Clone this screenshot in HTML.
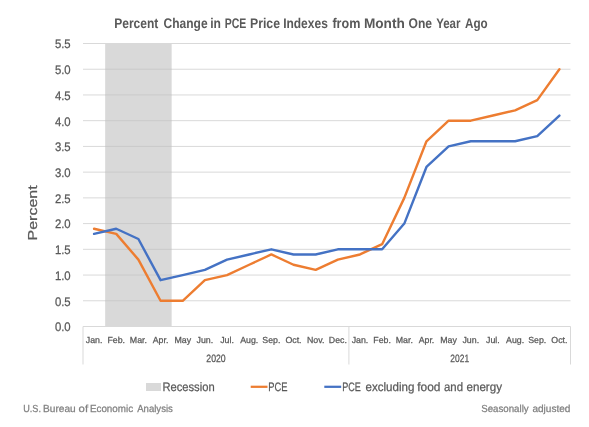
<!DOCTYPE html><html><head><meta charset="utf-8"><style>html,body{margin:0;padding:0;background:#fff;overflow:hidden;}svg{display:block;will-change:transform;}text{font-family:"Liberation Sans",sans-serif;text-rendering:geometricPrecision;}</style></head><body>
<svg width="589" height="427" viewBox="0 0 589 427">
<rect x="0" y="0" width="589" height="427" fill="#fff"/>
<rect x="105.16" y="43.00" width="66.48" height="283.50" fill="#d9d9d9"/>
<line x1="83.0" x2="570.5" y1="300.77" y2="300.77" stroke="#d9d9d9" stroke-width="1"/>
<line x1="105.16" x2="171.64" y1="300.77" y2="300.77" stroke="#cacaca" stroke-width="1"/>
<line x1="83.0" x2="570.5" y1="275.05" y2="275.05" stroke="#d9d9d9" stroke-width="1"/>
<line x1="105.16" x2="171.64" y1="275.05" y2="275.05" stroke="#cacaca" stroke-width="1"/>
<line x1="83.0" x2="570.5" y1="249.32" y2="249.32" stroke="#d9d9d9" stroke-width="1"/>
<line x1="105.16" x2="171.64" y1="249.32" y2="249.32" stroke="#cacaca" stroke-width="1"/>
<line x1="83.0" x2="570.5" y1="223.59" y2="223.59" stroke="#d9d9d9" stroke-width="1"/>
<line x1="105.16" x2="171.64" y1="223.59" y2="223.59" stroke="#cacaca" stroke-width="1"/>
<line x1="83.0" x2="570.5" y1="197.86" y2="197.86" stroke="#d9d9d9" stroke-width="1"/>
<line x1="105.16" x2="171.64" y1="197.86" y2="197.86" stroke="#cacaca" stroke-width="1"/>
<line x1="83.0" x2="570.5" y1="172.14" y2="172.14" stroke="#d9d9d9" stroke-width="1"/>
<line x1="105.16" x2="171.64" y1="172.14" y2="172.14" stroke="#cacaca" stroke-width="1"/>
<line x1="83.0" x2="570.5" y1="146.41" y2="146.41" stroke="#d9d9d9" stroke-width="1"/>
<line x1="105.16" x2="171.64" y1="146.41" y2="146.41" stroke="#cacaca" stroke-width="1"/>
<line x1="83.0" x2="570.5" y1="120.68" y2="120.68" stroke="#d9d9d9" stroke-width="1"/>
<line x1="105.16" x2="171.64" y1="120.68" y2="120.68" stroke="#cacaca" stroke-width="1"/>
<line x1="83.0" x2="570.5" y1="94.95" y2="94.95" stroke="#d9d9d9" stroke-width="1"/>
<line x1="105.16" x2="171.64" y1="94.95" y2="94.95" stroke="#cacaca" stroke-width="1"/>
<line x1="83.0" x2="570.5" y1="69.23" y2="69.23" stroke="#d9d9d9" stroke-width="1"/>
<line x1="105.16" x2="171.64" y1="69.23" y2="69.23" stroke="#cacaca" stroke-width="1"/>
<line x1="83.0" x2="570.5" y1="43.50" y2="43.50" stroke="#d9d9d9" stroke-width="1"/>
<line x1="83.0" x2="570.5" y1="326.5" y2="326.5" stroke="#d9d9d9" stroke-width="1"/>
<line x1="83.00" x2="83.00" y1="326.5" y2="364.5" stroke="#d9d9d9" stroke-width="1"/>
<line x1="348.91" x2="348.91" y1="326.5" y2="364.5" stroke="#d9d9d9" stroke-width="1"/>
<line x1="570.50" x2="570.50" y1="326.5" y2="364.5" stroke="#d9d9d9" stroke-width="1"/>
<polyline points="94.08,228.74 116.24,233.88 138.40,259.61 160.56,300.77 182.72,300.77 204.88,280.19 227.03,275.05 249.19,264.75 271.35,254.46 293.51,264.75 315.67,269.90 337.83,259.61 359.99,254.46 382.15,244.17 404.31,197.86 426.47,141.26 448.62,120.68 470.78,120.68 492.94,115.54 515.10,110.39 537.26,100.10 559.42,69.23" fill="none" stroke="#ED7D31" stroke-width="2.4" stroke-linejoin="round" stroke-linecap="round"/>
<polyline points="94.08,233.88 116.24,228.74 138.40,239.03 160.56,280.19 182.72,275.05 204.88,269.90 227.03,259.61 249.19,254.46 271.35,249.32 293.51,254.46 315.67,254.46 337.83,249.32 359.99,249.32 382.15,249.32 404.31,223.59 426.47,166.99 448.62,146.41 470.78,141.26 492.94,141.26 515.10,141.26 537.26,136.12 559.42,115.54" fill="none" stroke="#4472C4" stroke-width="2.4" stroke-linejoin="round" stroke-linecap="round"/>
<text x="70.70" y="331.35" font-size="12.4" fill="#595959" text-anchor="end" textLength="15.80" lengthAdjust="spacingAndGlyphs" stroke="#595959" stroke-width="0.25">0.0</text>
<text x="70.70" y="305.62" font-size="12.4" fill="#595959" text-anchor="end" textLength="15.80" lengthAdjust="spacingAndGlyphs" stroke="#595959" stroke-width="0.25">0.5</text>
<text x="70.70" y="279.90" font-size="12.4" fill="#595959" text-anchor="end" textLength="15.80" lengthAdjust="spacingAndGlyphs" stroke="#595959" stroke-width="0.25">1.0</text>
<text x="70.70" y="254.17" font-size="12.4" fill="#595959" text-anchor="end" textLength="15.80" lengthAdjust="spacingAndGlyphs" stroke="#595959" stroke-width="0.25">1.5</text>
<text x="70.70" y="228.44" font-size="12.4" fill="#595959" text-anchor="end" textLength="15.80" lengthAdjust="spacingAndGlyphs" stroke="#595959" stroke-width="0.25">2.0</text>
<text x="70.70" y="202.71" font-size="12.4" fill="#595959" text-anchor="end" textLength="15.80" lengthAdjust="spacingAndGlyphs" stroke="#595959" stroke-width="0.25">2.5</text>
<text x="70.70" y="176.99" font-size="12.4" fill="#595959" text-anchor="end" textLength="15.80" lengthAdjust="spacingAndGlyphs" stroke="#595959" stroke-width="0.25">3.0</text>
<text x="70.70" y="151.26" font-size="12.4" fill="#595959" text-anchor="end" textLength="15.80" lengthAdjust="spacingAndGlyphs" stroke="#595959" stroke-width="0.25">3.5</text>
<text x="70.70" y="125.53" font-size="12.4" fill="#595959" text-anchor="end" textLength="15.80" lengthAdjust="spacingAndGlyphs" stroke="#595959" stroke-width="0.25">4.0</text>
<text x="70.70" y="99.80" font-size="12.4" fill="#595959" text-anchor="end" textLength="15.80" lengthAdjust="spacingAndGlyphs" stroke="#595959" stroke-width="0.25">4.5</text>
<text x="70.70" y="74.08" font-size="12.4" fill="#595959" text-anchor="end" textLength="15.80" lengthAdjust="spacingAndGlyphs" stroke="#595959" stroke-width="0.25">5.0</text>
<text x="70.70" y="48.35" font-size="12.4" fill="#595959" text-anchor="end" textLength="15.80" lengthAdjust="spacingAndGlyphs" stroke="#595959" stroke-width="0.25">5.5</text>
<text x="94.08" y="342.80" font-size="8.8" fill="#595959" text-anchor="middle" stroke="#595959" stroke-width="0.25">Jan.</text>
<text x="116.24" y="342.80" font-size="8.8" fill="#595959" text-anchor="middle" stroke="#595959" stroke-width="0.25">Feb.</text>
<text x="138.40" y="342.80" font-size="8.8" fill="#595959" text-anchor="middle" stroke="#595959" stroke-width="0.25">Mar.</text>
<text x="160.56" y="342.80" font-size="8.8" fill="#595959" text-anchor="middle" stroke="#595959" stroke-width="0.25">Apr.</text>
<text x="182.72" y="342.80" font-size="8.8" fill="#595959" text-anchor="middle" stroke="#595959" stroke-width="0.25">May</text>
<text x="204.88" y="342.80" font-size="8.8" fill="#595959" text-anchor="middle" stroke="#595959" stroke-width="0.25">Jun.</text>
<text x="227.03" y="342.80" font-size="8.8" fill="#595959" text-anchor="middle" stroke="#595959" stroke-width="0.25">Jul.</text>
<text x="249.19" y="342.80" font-size="8.8" fill="#595959" text-anchor="middle" stroke="#595959" stroke-width="0.25">Aug.</text>
<text x="271.35" y="342.80" font-size="8.8" fill="#595959" text-anchor="middle" stroke="#595959" stroke-width="0.25">Sep.</text>
<text x="293.51" y="342.80" font-size="8.8" fill="#595959" text-anchor="middle" stroke="#595959" stroke-width="0.25">Oct.</text>
<text x="315.67" y="342.80" font-size="8.8" fill="#595959" text-anchor="middle" stroke="#595959" stroke-width="0.25">Nov.</text>
<text x="337.83" y="342.80" font-size="8.8" fill="#595959" text-anchor="middle" stroke="#595959" stroke-width="0.25">Dec.</text>
<text x="359.99" y="342.80" font-size="8.8" fill="#595959" text-anchor="middle" stroke="#595959" stroke-width="0.25">Jan.</text>
<text x="382.15" y="342.80" font-size="8.8" fill="#595959" text-anchor="middle" stroke="#595959" stroke-width="0.25">Feb.</text>
<text x="404.31" y="342.80" font-size="8.8" fill="#595959" text-anchor="middle" stroke="#595959" stroke-width="0.25">Mar.</text>
<text x="426.47" y="342.80" font-size="8.8" fill="#595959" text-anchor="middle" stroke="#595959" stroke-width="0.25">Apr.</text>
<text x="448.62" y="342.80" font-size="8.8" fill="#595959" text-anchor="middle" stroke="#595959" stroke-width="0.25">May</text>
<text x="470.78" y="342.80" font-size="8.8" fill="#595959" text-anchor="middle" stroke="#595959" stroke-width="0.25">Jun.</text>
<text x="492.94" y="342.80" font-size="8.8" fill="#595959" text-anchor="middle" stroke="#595959" stroke-width="0.25">Jul.</text>
<text x="515.10" y="342.80" font-size="8.8" fill="#595959" text-anchor="middle" stroke="#595959" stroke-width="0.25">Aug.</text>
<text x="537.26" y="342.80" font-size="8.8" fill="#595959" text-anchor="middle" stroke="#595959" stroke-width="0.25">Sep.</text>
<text x="559.42" y="342.80" font-size="8.8" fill="#595959" text-anchor="middle" stroke="#595959" stroke-width="0.25">Oct.</text>
<text x="216.00" y="361.70" font-size="10.6" fill="#595959" text-anchor="middle" textLength="19.40" lengthAdjust="spacingAndGlyphs" stroke="#595959" stroke-width="0.25">2020</text>
<text x="459.75" y="361.70" font-size="10.6" fill="#595959" text-anchor="middle" textLength="18.80" lengthAdjust="spacingAndGlyphs" stroke="#595959" stroke-width="0.25">2021</text>
<text x="0" y="0" font-size="13" fill="#595959" transform="translate(36.5,240.4) rotate(-90)" textLength="55" lengthAdjust="spacingAndGlyphs" stroke="#595959" stroke-width="0.25">Percent</text>
<rect x="146" y="383" width="15" height="8" fill="#d9d9d9"/>
<line x1="250.7" x2="267.5" y1="386.8" y2="386.8" stroke="#ED7D31" stroke-width="2.25"/>
<line x1="324.3" x2="341.2" y1="386.8" y2="386.8" stroke="#4472C4" stroke-width="2.25"/>
<text x="114.24" y="27.60" font-size="14.0" fill="#595959" font-weight="bold" textLength="44.11" lengthAdjust="spacingAndGlyphs">Percent</text>
<text x="163.60" y="27.60" font-size="14.0" fill="#595959" font-weight="bold" textLength="43.99" lengthAdjust="spacingAndGlyphs">Change</text>
<text x="210.14" y="27.60" font-size="14.0" fill="#595959" font-weight="bold" textLength="10.75" lengthAdjust="spacingAndGlyphs">in</text>
<text x="224.75" y="27.60" font-size="14.0" fill="#595959" font-weight="bold" textLength="21.60" lengthAdjust="spacingAndGlyphs">PCE</text>
<text x="250.02" y="27.60" font-size="14.0" fill="#595959" font-weight="bold" textLength="29.99" lengthAdjust="spacingAndGlyphs">Price</text>
<text x="283.14" y="27.60" font-size="14.0" fill="#595959" font-weight="bold" textLength="44.68" lengthAdjust="spacingAndGlyphs">Indexes</text>
<text x="332.40" y="27.60" font-size="14.0" fill="#595959" font-weight="bold" textLength="28.01" lengthAdjust="spacingAndGlyphs">from</text>
<text x="363.92" y="27.60" font-size="14.0" fill="#595959" font-weight="bold" textLength="40.93" lengthAdjust="spacingAndGlyphs">Month</text>
<text x="408.60" y="27.60" font-size="14.0" fill="#595959" font-weight="bold" textLength="23.50" lengthAdjust="spacingAndGlyphs">One</text>
<text x="436.20" y="27.60" font-size="14.0" fill="#595959" font-weight="bold" textLength="24.27" lengthAdjust="spacingAndGlyphs">Year</text>
<text x="465.00" y="27.60" font-size="14.0" fill="#595959" font-weight="bold" textLength="22.68" lengthAdjust="spacingAndGlyphs">Ago</text>
<text x="162.38" y="390.80" font-size="12.2" fill="#595959" textLength="52.25" lengthAdjust="spacingAndGlyphs" stroke="#595959" stroke-width="0.25">Recession</text>
<text x="268.23" y="390.80" font-size="12.2" fill="#595959" textLength="19.21" lengthAdjust="spacingAndGlyphs" stroke="#595959" stroke-width="0.25">PCE</text>
<text x="342.26" y="390.80" font-size="12.2" fill="#595959" textLength="18.59" lengthAdjust="spacingAndGlyphs" stroke="#595959" stroke-width="0.25">PCE</text>
<text x="365.50" y="390.80" font-size="12.2" fill="#595959" textLength="48.87" lengthAdjust="spacingAndGlyphs" stroke="#595959" stroke-width="0.25">excluding</text>
<text x="417.30" y="390.80" font-size="12.2" fill="#595959" textLength="23.22" lengthAdjust="spacingAndGlyphs" stroke="#595959" stroke-width="0.25">food</text>
<text x="444.00" y="390.80" font-size="12.2" fill="#595959" textLength="19.02" lengthAdjust="spacingAndGlyphs" stroke="#595959" stroke-width="0.25">and</text>
<text x="466.50" y="390.80" font-size="12.2" fill="#595959" textLength="35.45" lengthAdjust="spacingAndGlyphs" stroke="#595959" stroke-width="0.25">energy</text>
<text x="23.20" y="412.00" font-size="10.2" fill="#808080" textLength="17.74" lengthAdjust="spacingAndGlyphs" stroke="#808080" stroke-width="0.25">U.S.</text>
<text x="43.01" y="412.00" font-size="10.2" fill="#808080" textLength="32.65" lengthAdjust="spacingAndGlyphs" stroke="#808080" stroke-width="0.25">Bureau</text>
<text x="78.60" y="412.00" font-size="10.2" fill="#808080" textLength="9.46" lengthAdjust="spacingAndGlyphs" stroke="#808080" stroke-width="0.25">of</text>
<text x="89.94" y="412.00" font-size="10.2" fill="#808080" textLength="43.11" lengthAdjust="spacingAndGlyphs" stroke="#808080" stroke-width="0.25">Economic</text>
<text x="137.20" y="412.00" font-size="10.2" fill="#808080" textLength="35.64" lengthAdjust="spacingAndGlyphs" stroke="#808080" stroke-width="0.25">Analysis</text>
<text x="481.25" y="412.00" font-size="10.2" fill="#808080" textLength="47.40" lengthAdjust="spacingAndGlyphs" stroke="#808080" stroke-width="0.25">Seasonally</text>
<text x="532.40" y="412.00" font-size="10.2" fill="#808080" textLength="38.02" lengthAdjust="spacingAndGlyphs" stroke="#808080" stroke-width="0.25">adjusted</text>
</svg></body></html>
